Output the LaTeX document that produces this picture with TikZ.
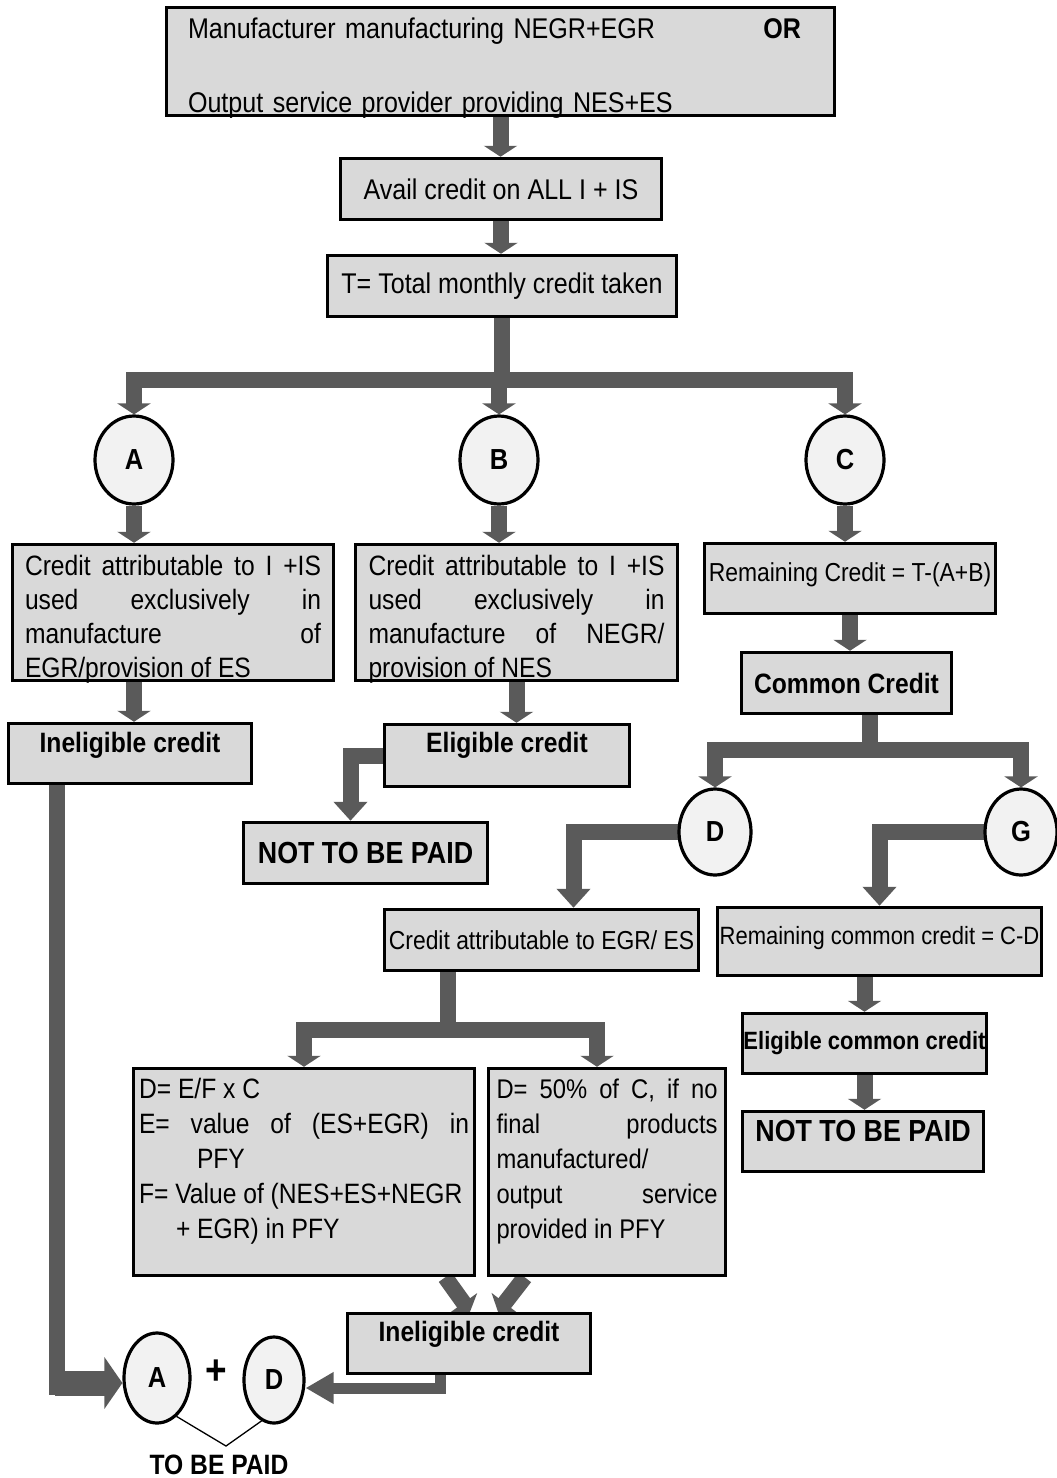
\documentclass[tikz,border=0pt]{standalone}
\usepackage{fontspec}
\setmainfont{Liberation Sans}[FakeStretch=0.88]
\usepackage{tikz}
\usetikzlibrary{shapes.geometric,arrows.meta,calc,backgrounds}
\definecolor{boxgray}{RGB}{217,217,217}
\definecolor{bubblegray}{RGB}{242,242,242}
\definecolor{pipegray}{RGB}{90,90,90}
\setlength{\parindent}{0pt}
\newcommand{\lift}[2]{\raisebox{#1}[\height][\depth]{#2}}
\tikzset{
  box/.style={rectangle, draw, line width=3.5pt, fill=boxgray, inner sep=0pt, align=center, font=\fontsize{28.5}{34}\selectfont},
  boldbox/.style={box, font=\fontsize{28}{34}\selectfont\bfseries},
  bigbox/.style={box, font=\fontsize{30.5}{34}\selectfont\bfseries},
  textbox/.style={box, align=justify, font=\fontsize{28}{34}\selectfont},
  bubble/.style={ellipse, draw, line width=3.2pt, fill=bubblegray, inner sep=0pt, minimum width=78pt, minimum height=88pt, font=\fontsize{29}{30}\selectfont\bfseries},
  pipe/.style={draw=pipegray, line width=16pt, line join=miter},
  arrow/.style={pipe, -{Triangle[width=33pt,length=11pt]}},
  bentarrow/.style={pipe, -{Triangle[width=33pt,length=19pt]}},
  fatarrow/.style={pipe, line width=25pt, -{Triangle[width=51pt,length=18pt]}},
  thinarrow/.style={pipe, line width=11pt, -{Triangle[width=30pt,length=28pt]}},
}

\begin{document}
\begin{tikzpicture}[x=1pt, y=-1pt]
  \useasboundingbox (0,0) rectangle (1057,1478);

  % Top chain
  \node[box, align=left, text width=625pt, minimum width=668pt, minimum height=108pt, text height=21pt, text depth=68pt] (maker) at (500.5,61.5)
    {\makebox[613pt]{Manufacturer manufacturing NEGR+EGR\hfill\textbf{OR}}\\[40pt]Output service provider providing NES+ES};
  \node[box, minimum width=321pt, minimum height=61pt] (avail) at (501,189) {Avail credit on ALL I + IS};
  \node[box, minimum width=349pt, minimum height=61pt] (total) at (502,286) {T= Total monthly credit taken};
  \coordinate (bar1) at (502,380);

  % Three bubbles
  \node[bubble] (cA) at (134,460) {A};
  \node[bubble] (cB) at (499,460) {B};
  \node[bubble] (cC) at (845,460) {C};

  % Branch A and B
  \node[textbox, text width=296pt, minimum width=321pt, minimum height=136pt, text height=21pt, text depth=96pt] (excA) at (173,612.5)
    {Credit attributable to I +IS\linebreak used exclusively in\linebreak manufacture of\linebreak EGR/provision of ES};
  \node[textbox, text width=296pt, minimum width=322pt, minimum height=136pt, text height=21pt, text depth=96pt] (excB) at (516.5,612.5)
    {Credit attributable to I +IS\linebreak used exclusively in\linebreak manufacture of NEGR/\linebreak provision of NES};
  \node[boldbox, minimum width=243pt, minimum height=60pt] (inelA) at (130,753.5) {\lift{8pt}{Ineligible credit}};
  \node[boldbox, minimum width=245pt, minimum height=62pt] (elig) at (507,755.5) {\lift{10pt}{Eligible credit}};
  \node[bigbox, minimum width=244pt, minimum height=61pt] (notA) at (365.5,853) {NOT TO BE PAID};

  % Branch C
  \node[box, font=\fontsize{26}{30}\selectfont, minimum width=291pt, minimum height=70pt] (rem) at (850,578.5) {\lift{4pt}{Remaining Credit = T-(A+B)}};
  \node[boldbox, minimum width=210pt, minimum height=61pt] (common) at (846.5,683) {Common Credit};
  \coordinate (bar2) at (870,750);
  \node[bubble, minimum width=72pt, minimum height=86pt] (cD) at (715,832) {D};
  \node[bubble, minimum width=72pt, minimum height=86pt] (cG) at (1021,832) {G};
  \node[box, font=\fontsize{26}{30}\selectfont, minimum width=314pt, minimum height=61pt] (egr) at (541.5,940) {Credit attributable to EGR/ ES};
  \node[box, font=\fontsize{25}{30}\selectfont, minimum width=324pt, minimum height=68pt] (remc) at (879.5,941.5) {\lift{3pt}{Remaining common credit = C-D}};
  \node[boldbox, font=\fontsize{25}{30}\selectfont\bfseries, minimum width=244pt, minimum height=60pt] (eligc) at (864.5,1043.5) {Eligible common credit};
  \node[bigbox, minimum width=241pt, minimum height=60pt] (notG) at (863,1141.5) {\lift{11pt}{NOT TO BE PAID}};
  \coordinate (bar3) at (448,1030);

  % Share of D
  \node[textbox, font=\fontsize{28}{35}\selectfont, text width=330pt, minimum width=341pt, minimum height=207pt, text height=24pt, text depth=172pt] (ratio) at (304,1172)
    {D= E/F x C\\ E= value of (ES+EGR) in\linebreak \hspace*{58pt}PFY\\ F= Value of (NES+ES+NEGR\\ \hspace*{37pt}+ EGR) in PFY};
  \node[textbox, font=\fontsize{27}{35}\selectfont, text width=221pt, minimum width=237pt, minimum height=207pt, text height=24pt, text depth=172pt] (half) at (607,1172)
    {D= 50\% of C, if no\linebreak final products\linebreak manufactured/\\ output service\linebreak provided in PFY};
  \node[boldbox, minimum width=243pt, minimum height=60pt] (inelD) at (469,1343.5) {\lift{9pt}{Ineligible credit}};

  % Sum to be paid
  \node[bubble, minimum width=66pt, minimum height=90pt] (sumA) at (157,1378) {A};
  \node[bubble, minimum width=60pt, minimum height=86pt] (sumD) at (274,1380) {D};
  \node[font=\fontsize{42}{42}\selectfont\bfseries] (plus) at (216,1372) {+};
  \node[font=\fontsize{28}{30}\selectfont\bfseries] (paid) at (219,1465) {TO BE PAID};
  \coordinate (vtip) at (226,1446);
  \draw[line width=1.3pt] (sumA.-63) -- (vtip) -- (sumD.-107);
  \coordinate (elbowA) at (57,1383);
  \coordinate (elbowD) at (440,1388);

  % Connections
  \begin{scope}[on background layer]
    \draw[arrow] (maker.south) -- (maker.south |- avail.north);
    \draw[arrow] (avail.south) -- (avail.south |- total.north);
    \draw[arrow] (total.south) -- (total.south |- bar1) -| (cA.north);
    \draw[arrow] (total.south) -- (total.south |- bar1) -| (cB.north);
    \draw[arrow] (total.south) -- (total.south |- bar1) -| (cC.north);
    \draw[arrow] (cA.south) -- (cA.south |- excA.north);
    \draw[arrow] (cB.south) -- (cB.south |- excB.north);
    \draw[arrow] (cC.south) -- (cC.south |- rem.north);
    \draw[arrow] (excA.south -| cA) -- (inelA.north -| cA);
    \draw[arrow] (excB.south) -- (excB.south |- elig.north);
    \draw[bentarrow] (elig.center) -| ([xshift=-15pt]notA.north);
    \draw[arrow] (rem.south) -- (rem.south |- common.north);
    \draw[arrow] (common.south -| bar2) -- (bar2) -| (cD.north);
    \draw[arrow] (common.south -| bar2) -- (bar2) -| (cG.north);
    \draw[bentarrow] (cD.center) -| ([xshift=32pt]egr.north);
    \draw[bentarrow] (cG.center) -| (remc.north);
    \draw[arrow] (eligc.north |- remc.south) -- (eligc.north);
    \draw[arrow] (eligc.south) -- (eligc.south |- notG.north);
    \draw[arrow] (egr.south -| bar3) -- (bar3) -| (ratio.north);
    \draw[arrow] (egr.south -| bar3) -- (bar3) -| ([xshift=-10pt]half.north);
    \draw[arrow] ([xshift=-31pt]ratio.south east) -- ([xshift=1pt]inelD.north);
    \draw[arrow] ([xshift=38pt]half.south west) -- ([xshift=29pt]inelD.north);
    \draw[pipe] (inelA.south -| elbowA) -- ([yshift=-12pt]elbowA);
    \draw[fatarrow] ([xshift=-2pt]elbowA) -- (elbowA -| sumA.west);
    \draw[thinarrow] (inelD.south -| elbowD) -- (elbowD) -- (elbowD -| sumD.east);
  \end{scope}
\end{tikzpicture}
\end{document}
